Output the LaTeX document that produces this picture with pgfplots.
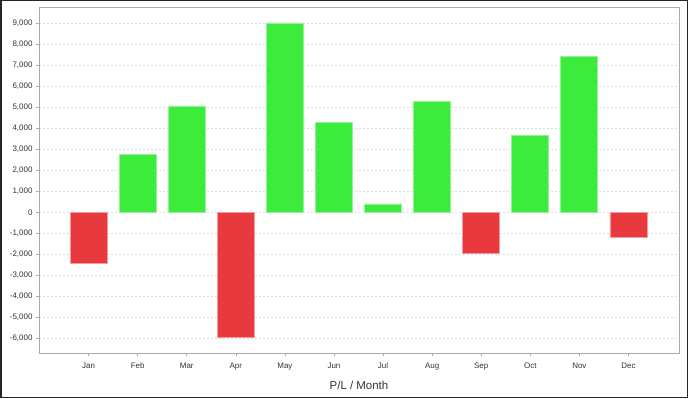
\documentclass[border=0pt]{standalone}
\usepackage{fontspec}
\setmainfont{Liberation Sans}
\usepackage{pgfplots}
\pgfplotsset{compat=1.18}
\definecolor{pos}{HTML}{3DEB3D}
\definecolor{negc}{HTML}{E8393E}
\definecolor{txt}{HTML}{333333}
\definecolor{grd}{HTML}{DDDDDD}
\definecolor{frm}{HTML}{AAAAAA}
\begin{document}
\begin{tikzpicture}[x=1bp,y=1bp]
\draw[black!85, line width=1.5bp] (0.75,0.75) rectangle (687.25,397.25);
\begin{axis}[
  at={(39bp,45bp)}, anchor=south west,
  scale only axis, width=640bp, height=346bp,
  xmin=-1.01, xmax=12.03, ymin=-6710, ymax=9790,
  xtick={0,...,11},
  xticklabels={Jan,Feb,Mar,Apr,May,Jun,Jul,Aug,Sep,Oct,Nov,Dec},
  ytick={-6000,-5000,...,9000},
  scaled y ticks=false,
  /pgf/number format/assume math mode=true,
  yticklabel style={/pgf/number format/.cd, fixed, 1000 sep={,}},
  tick label style={font=\fontsize{8}{9}\selectfont, text=txt},
  xticklabel style={yshift=-3bp},
  tick align=outside, tick pos=left,
  major tick length=3bp,
  tick style={frm, line width=0.6bp},
  axis line style={frm, line width=1bp},
  ymajorgrids, grid style={grd, dash pattern=on 2bp off 2bp, line width=0.5bp},
  xlabel={P/L / Month},
  xlabel style={font=\fontsize{11.5}{12}\selectfont, text=txt, yshift=-5bp},
  ybar, bar width=37bp, bar shift=0pt,
]
\addplot[fill=pos, draw=pos!55!white, line width=0.8bp] coordinates {
(1,2750) (2,5070) (4,9030) (5,4300) (6,400) (7,5300) (9,3680) (10,7420)};
\addplot[fill=negc, draw=negc!50!white, line width=0.8bp] coordinates {
(0,-2460) (3,-5950) (8,-1980) (11,-1220)};
\end{axis}
\end{tikzpicture}
\end{document}
